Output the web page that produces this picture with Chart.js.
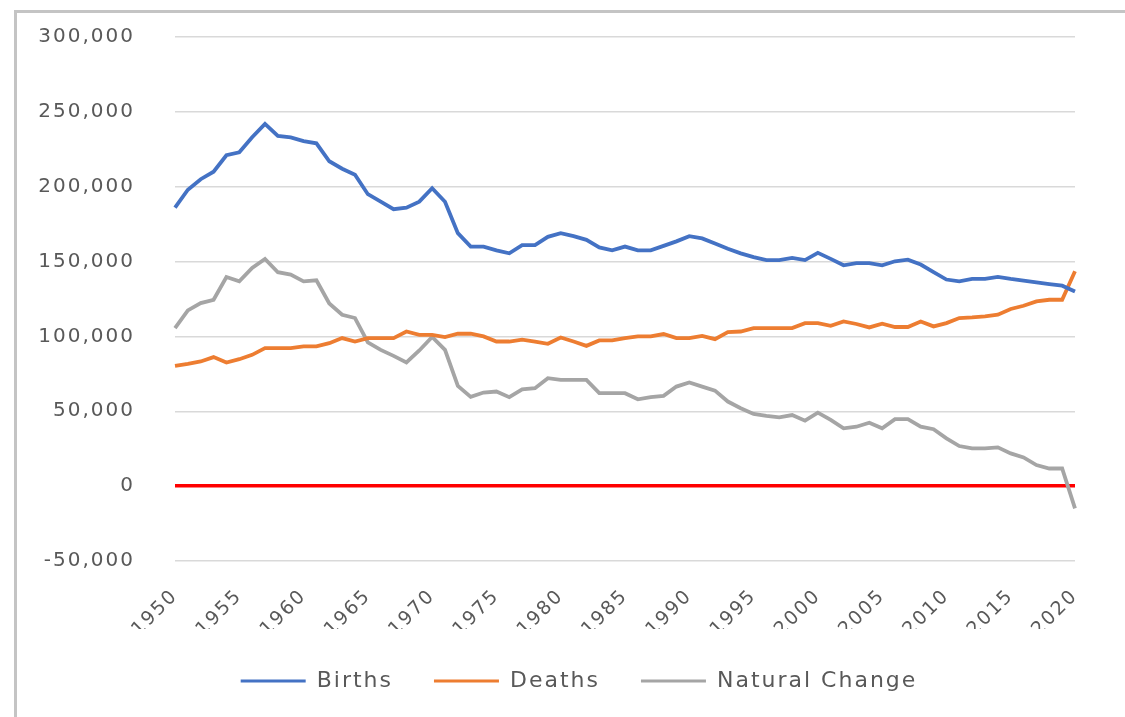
<!DOCTYPE html>
<html>
<head>
<meta charset="utf-8">
<script src="https://cdn.jsdelivr.net/npm/chart.js@4"></script>
<style>
  html, body { margin: 0; padding: 0; background: #fff; width: 1125px; height: 717px; overflow: hidden; }
  canvas { display: block; }
</style>
</head>
<body>
<canvas id="c" width="1125" height="717"></canvas>
<script>
const years = ['1950','1951','1952','1953','1954','1955','1956','1957','1958','1959',
  '1960','1961','1962','1963','1964','1965','1966','1967','1968','1969',
  '1970','1971','1972','1973','1974','1975','1976','1977','1978','1979',
  '1980','1981','1982','1983','1984','1985','1986','1987','1988','1989',
  '1990','1991','1992','1993','1994','1995','1996','1997','1998','1999',
  '2000','2001','2002','2003','2004','2005','2006','2007','2008','2009',
  '2010','2011','2012','2013','2014','2015','2016','2017','2018','2019','2020'];

const births = [186000,198000,205000,210000,221000,223000,233000,242000,234000,233000,
  230500,229000,217000,212000,208000,195000,190000,185000,186000,190000,
  199000,190000,169000,160000,160000,157500,155500,161000,161000,166500,
  169000,167000,164500,159500,157500,160000,157500,157500,160500,163500,
  167000,165500,162000,158500,155500,153000,151000,151000,152500,151000,
  155800,151800,147500,149000,149000,147500,150200,151300,148000,143000,
  138000,136800,138400,138400,139700,138400,137300,136100,135000,133900,130000];

const deaths = [80400,81700,83300,86200,82600,84800,87700,92200,92200,92200,
  93300,93300,95500,98900,96600,98900,98900,98900,103300,101100,
  101100,99600,101800,101800,100000,96600,96600,97800,96600,95100,
  99300,96600,93700,97300,97300,98900,100000,100000,101600,98900,
  98900,100400,98200,102900,103300,105600,105600,105600,105600,108900,
  108900,107100,110000,108300,106000,108500,106300,106300,110000,106700,
  108900,112300,112700,113400,114500,118300,120500,123400,124500,124500,143500];

const naturalChange = [105600,117400,122300,124500,139700,136800,145800,151800,142900,141300,
  136800,137500,122000,114500,112300,96000,91000,87000,82600,90600,
  99600,91000,67000,59600,62500,63200,59400,64700,65400,72100,
  71000,71000,71000,62100,62100,62100,58000,59400,60300,66500,
  69200,66500,63800,56500,52000,48200,47000,46000,47500,43700,
  49100,44200,38600,39700,42400,38600,44700,44700,39700,38000,
  31900,26800,25200,25200,25900,21900,19200,14100,11800,11800,-14900];

const seriesNames = ['Births', 'Deaths', 'Natural Change'];
const yTicks = { min: -50000, max: 300000, step: 50000 };

function drawFrame(ctx) {
  ctx.save();
  ctx.fillStyle = '#c4c4c4';
  ctx.fillRect(14, 10, 3, 707);
  ctx.fillRect(14, 10, 1111, 3);
  ctx.restore();
}

const spacingPlugin = {
  id: 'spacing',
  beforeUpdate(chart) { chart.ctx.letterSpacing = '2px'; },
  afterLayout(chart) {
    const l = chart.legend;
    if (l) { l.left += 24; l.right += 24; }
    const y = chart.scales.y;
    if (y && !y._shifted) {
      const orig = y.drawLabels.bind(y);
      y.drawLabels = function (area) {
        const c = this.ctx;
        c.save();
        c.translate(-15, 0);
        orig(area);
        c.restore();
      };
      y._shifted = true;
    }
  },
  beforeDraw(chart) { chart.ctx.letterSpacing = '2px'; },
  afterDraw(chart) { drawFrame(chart.ctx); }
};

const FONT = "'DejaVu Sans', sans-serif";
const TXT = '#595959';

function ds(label, data, color) {
  return { label, data, borderColor: color, backgroundColor: color, borderWidth: 3.8,
    pointRadius: 0, pointHoverRadius: 0, tension: 0, fill: false };
}

new Chart(document.getElementById('c'), {
  type: 'line',
  data: {
    labels: years,
    datasets: [
      ds(seriesNames[0], births, '#4472C4'),
      ds(seriesNames[1], deaths, '#ED7D31'),
      ds(seriesNames[2], naturalChange, '#A5A5A5')
    ]
  },
  plugins: [spacingPlugin],
  options: {
    responsive: false,
    animation: false,
    layout: { padding: { left: 35, right: 50, top: 37, bottom: 15 } },
    plugins: {
      tooltip: { enabled: false },
      legend: {
        position: 'bottom',
        labels: {
          color: TXT,
          font: { family: FONT, size: 22 },
          boxWidth: 65,
          boxHeight: 3,
          padding: 41,
          generateLabels(chart) {
            return chart.data.datasets.map((d, i) => ({
              text: d.label, fillStyle: d.borderColor, strokeStyle: d.borderColor,
              lineWidth: 0, hidden: false, datasetIndex: i, fontColor: TXT
            }));
          }
        }
      }
    },
    scales: {
      x: {
        type: 'category',
        afterFit(s) { s.height = 68; },
        grid: { display: false },
        border: { display: false },
        ticks: {
          autoSkip: false,
          maxRotation: 45,
          minRotation: 45,
          padding: 16,
          color: TXT,
          font: { family: FONT, size: 19 },
          callback(v, i) { const y = this.getLabelForValue(v); return (+y) % 5 === 0 ? y : ''; }
        }
      },
      y: {
        min: yTicks.min,
        max: yTicks.max,
        afterFit(s) { s.width = 140; },
        border: { display: false },
        grid: {
          drawTicks: false,
          color: (c) => c.tick && c.tick.value === 0 ? '#FF0000' : '#D9D9D9',
          lineWidth: (c) => c.tick && c.tick.value === 0 ? 3.5 : 1.5
        },
        ticks: {
          stepSize: yTicks.step,
          padding: 25,
          color: TXT,
          font: { family: FONT, size: 20 },
          callback: (v) => v.toLocaleString('en-US')
        }
      }
    }
  }
});
</script>
</body>
</html>
